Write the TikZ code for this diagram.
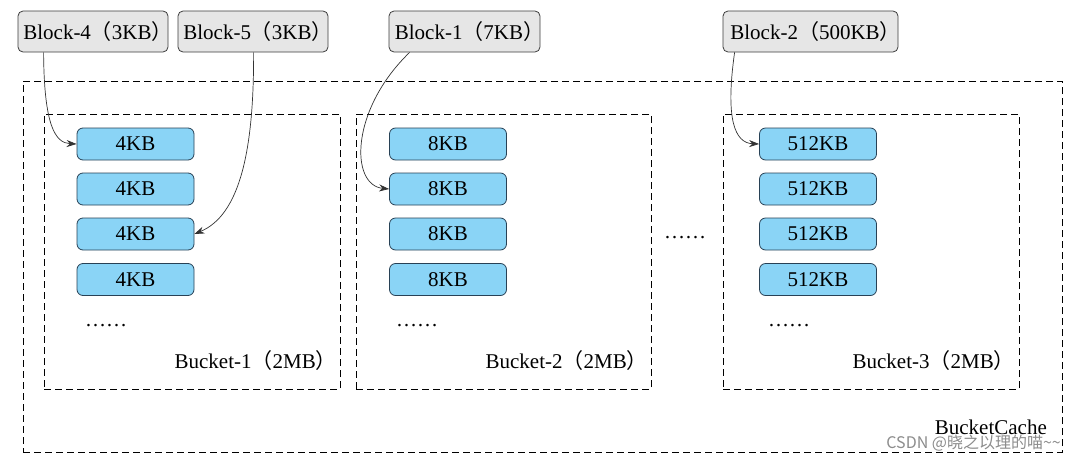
\documentclass[tikz,border=0pt]{standalone}
\usepackage{fontspec}
\setmainfont{Liberation Serif}
\newfontfamily\cjk{Noto Sans CJK SC}
\usetikzlibrary{arrows.meta}
\newcommand{\lp}{{\cjk （}}
\newcommand{\rp}{{\cjk ）}\kern-10pt\relax}
\definecolor{blkfill}{RGB}{230,230,230}
\definecolor{blkdraw}{RGB}{60,60,60}
\definecolor{slotfill}{RGB}{138,212,246}
\definecolor{slotdraw}{RGB}{40,65,85}
\tikzset{
  blockbox/.style={draw=blkdraw, fill=blkfill, rounded corners=5pt, line width=0.8pt,
    minimum height=41pt, inner sep=0pt, font=\fontsize{21}{23}\selectfont},
  slotbox/.style={draw=slotdraw, fill=slotfill, rounded corners=6pt, line width=0.8pt,
    minimum width=117pt, minimum height=32pt, inner sep=0pt, font=\fontsize{21}{23}\selectfont},
  dashbox/.style={draw, dash pattern=on 7pt off 4pt, line width=0.8pt, inner sep=0pt},
  lbl/.style={font=\fontsize{21}{23}\selectfont, inner sep=0pt},
  conn/.style={draw=black!80, line width=0.7pt, -{Stealth[length=10pt,width=7pt]}},
}
\begin{document}
\begin{tikzpicture}[x=1pt,y=-1pt]
\useasboundingbox (0,0) rectangle (1073,458);
% containers
\node[dashbox, minimum width=1039pt, minimum height=371pt] (cache) at (542.5,266.5) {};
\node[dashbox, minimum width=296pt, minimum height=275pt] (bk1) at (192,251.5) {};
\node[dashbox, minimum width=295pt, minimum height=275pt] (bk2) at (503.5,251.5) {};
\node[dashbox, minimum width=296pt, minimum height=275pt] (bk3) at (871,251.5) {};
% blocks
\node[blockbox, minimum width=150pt] (b4) at (93,31.5) {Block-4\lp3KB\rp};
\node[blockbox, minimum width=150pt] (b5) at (253,31.5) {Block-5\lp3KB\rp};
\node[blockbox, minimum width=151pt] (b1) at (464.5,31.5) {Block-1\lp7KB\rp};
\node[blockbox, minimum width=175pt] (b2) at (810.5,31.5) {Block-2\lp500KB\rp};
% slots bucket 1
\node[slotbox] (s11) at (135.5,144) {4KB};
\node[slotbox] (s12) at (135.5,189) {4KB};
\node[slotbox] (s13) at (135.5,234) {4KB};
\node[slotbox] (s14) at (135.5,279.5) {4KB};
% slots bucket 2
\node[slotbox] (s21) at (448,144) {8KB};
\node[slotbox] (s22) at (448,189) {8KB};
\node[slotbox] (s23) at (448,234) {8KB};
\node[slotbox] (s24) at (448,279.5) {8KB};
% slots bucket 3
\node[slotbox] (s31) at (818,144) {512KB};
\node[slotbox] (s32) at (818,189) {512KB};
\node[slotbox] (s33) at (818,234) {512KB};
\node[slotbox] (s34) at (818,279.5) {512KB};
% dots
\node[lbl] (d1) at (106,326) {\textellipsis\textellipsis};
\node[lbl] (d2) at (417,326) {\textellipsis\textellipsis};
\node[lbl] (d3) at (789,326) {\textellipsis\textellipsis};
\node[lbl] (dm) at (685,238) {\textellipsis\textellipsis};
% labels
\node[lbl, anchor=east] (l1) at (327,361) {Bucket-1\lp2MB\rp};
\node[lbl, anchor=east] (l2) at (638,361) {Bucket-2\lp2MB\rp};
\node[lbl, anchor=east] (l3) at (1005,361) {Bucket-3\lp2MB\rp};
\node[lbl, anchor=east] (lc) at (1047,427) {BucketCache};
\node[anchor=east, inner sep=0pt, text=black!45, font=\cjk\fontsize{16}{18}\selectfont] (wm) at (1061,443) {CSDN @晓之以理的喵\textasciitilde\textasciitilde};
% connectors
\coordinate (c4) at ([xshift=26pt]b4.south west);
\coordinate (c5) at ([xshift=76pt]b5.south west);
\coordinate (c1) at ([xshift=21pt]b1.south west);
\coordinate (c2) at ([xshift=12pt]b2.south west);
\draw[conn] (c4) .. controls (44,125) and (55,143) .. (s11.west);
\draw[conn] (c5) .. controls (254,150) and (240,215) .. (s13.east);
\draw[conn] (c1) .. controls (350,110) and (350,185) .. (s22.west);
\draw[conn] (c2) .. controls (725,120) and (735,143) .. (s31.west);
\end{tikzpicture}
\end{document}
